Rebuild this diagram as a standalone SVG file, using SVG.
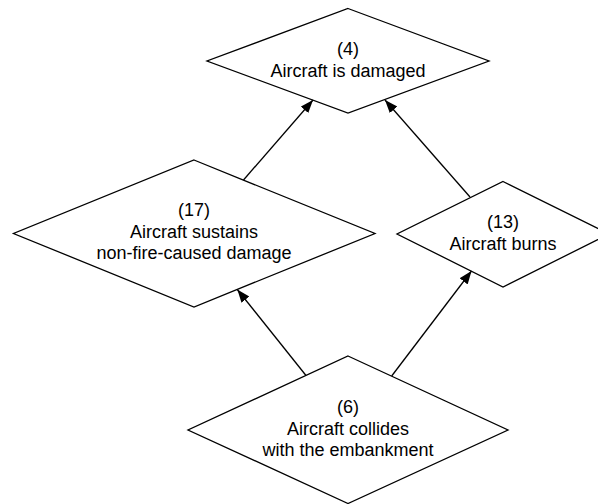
<svg xmlns="http://www.w3.org/2000/svg" width="598" height="504" viewBox="0 0 598 504">
<style>
.n{fill:#fff;stroke:#000;stroke-width:1.3}
.t{font-family:"Liberation Sans",Arial,sans-serif;font-size:18px;fill:#000;text-anchor:middle}
.e{stroke:#000;stroke-width:1.3;fill:none}
</style>
<defs>
<marker id="ah" markerUnits="userSpaceOnUse" markerWidth="14" markerHeight="12" refX="13" refY="5" orient="auto">
<path d="M0,0 L13,5 L0,10 Z" fill="#000"/>
</marker>
</defs>
<rect width="598" height="504" fill="#fff"/>
<g id="n4">
<polygon class="n" points="348,8.5 489,61 348,113 207,61"/>
<text class="t" x="348" y="55">(4)</text>
<text class="t" x="348" y="76.5">Aircraft is damaged</text>
</g>
<g id="n17">
<polygon class="n" points="194,160 375,233.5 194,307 13.5,233.5"/>
<text class="t" x="194" y="216">(17)</text>
<text class="t" x="194" y="237.5">Aircraft sustains</text>
<text class="t" x="194" y="259">non-fire-caused damage</text>
</g>
<g id="n13">
<polygon class="n" points="503,181.5 609,234 503,287 397,234"/>
<text class="t" x="503" y="228">(13)</text>
<text class="t" x="503" y="249.5">Aircraft burns</text>
</g>
<g id="n6">
<polygon class="n" points="348,356 508,430 348,503.5 188,430"/>
<text class="t" x="348" y="413">(6)</text>
<text class="t" x="348" y="434.5">Aircraft collides</text>
<text class="t" x="348" y="456">with the embankment</text>
</g>
<g id="connectors">
<line class="e" x1="243.5" y1="180" x2="313" y2="100" marker-end="url(#ah)"/>
<line class="e" x1="470" y1="197" x2="385" y2="100" marker-end="url(#ah)"/>
<line class="e" x1="306" y1="375.5" x2="237.3" y2="289.5" marker-end="url(#ah)"/>
<line class="e" x1="391.7" y1="376" x2="471.5" y2="271" marker-end="url(#ah)"/>
</g>
</svg>
